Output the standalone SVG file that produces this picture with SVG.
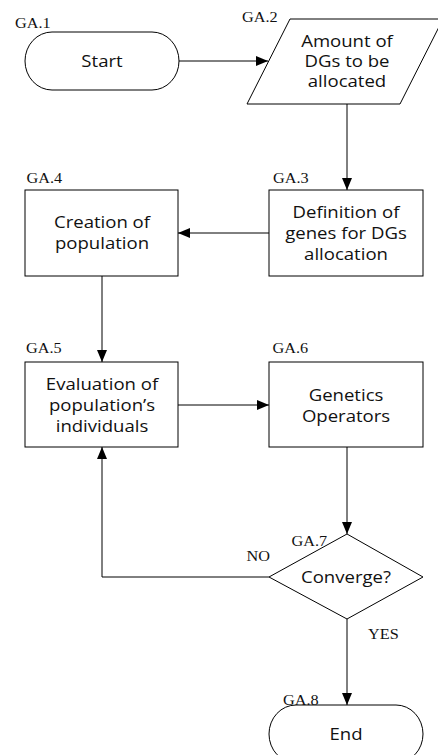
<svg xmlns="http://www.w3.org/2000/svg" width="438" height="755" viewBox="0 0 438 755">
<style>
.shape{fill:#fff;stroke:#000;stroke-width:1}
.conn{fill:none;stroke:#000;stroke-width:1}
.t{font-family:"Open Sans","Noto Sans",sans-serif;font-size:16px;fill:#111;text-anchor:middle}
.lab{font-family:"Liberation Serif","Times New Roman",serif;font-size:14px;fill:#111}
</style>
<defs>
<marker id="ah" markerUnits="userSpaceOnUse" markerWidth="13" markerHeight="11" refX="12" refY="5" orient="auto">
<path d="M0,0 L12,5 L0,10 z" fill="#000"/>
</marker>
</defs>
<rect width="438" height="755" fill="#fff"/>
<g id="connectors">
<line class="conn" x1="179" y1="61" x2="268" y2="61" marker-end="url(#ah)"/>
<line class="conn" x1="347" y1="104" x2="347" y2="190" marker-end="url(#ah)"/>
<line class="conn" x1="269" y1="233" x2="178" y2="233" marker-end="url(#ah)"/>
<line class="conn" x1="102" y1="276" x2="102" y2="362" marker-end="url(#ah)"/>
<line class="conn" x1="178" y1="405" x2="269" y2="405" marker-end="url(#ah)"/>
<line class="conn" x1="347" y1="447" x2="347" y2="534" marker-end="url(#ah)"/>
<polyline class="conn" points="269,577 102,577 102,447" marker-end="url(#ah)"/>
<line class="conn" x1="347" y1="619" x2="347" y2="705" marker-end="url(#ah)"/>
<text class="lab" transform="translate(246.5,0) scale(1.16,1)" y="561.5">NO</text>
<text class="lab" transform="translate(368,0) scale(1.16,1)" y="639">YES</text>
</g>
<g id="GA1">
<rect class="shape" x="25" y="32" width="154" height="58" rx="27" ry="29"/>
<text class="t" transform="translate(102,0) scale(1.16,1)" y="67.5">Start</text>
<text class="lab" transform="translate(15,0) scale(1.16,1)" y="28">GA.1</text>
</g>
<g id="GA2">
<polygon class="shape" points="290,19 443,19 400,104 247,104"/>
<text class="t" transform="translate(347,0) scale(1.16,1)"><tspan x="0" y="46.7">Amount of</tspan><tspan x="0" y="66.7">DGs to be</tspan><tspan x="0" y="87.3">allocated</tspan></text>
<text class="lab" transform="translate(242,0) scale(1.16,1)" y="21.7">GA.2</text>
</g>
<g id="GA3">
<rect class="shape" x="269" y="190" width="154" height="86"/>
<text class="t" transform="translate(346,0) scale(1.16,1)"><tspan x="0" y="218">Definition of</tspan><tspan x="0" y="239">genes for DGs</tspan><tspan x="0" y="260">allocation</tspan></text>
<text class="lab" transform="translate(273,0) scale(1.16,1)" y="183">GA.3</text>
</g>
<g id="GA4">
<rect class="shape" x="25" y="190" width="153" height="86"/>
<text class="t" transform="translate(102,0) scale(1.16,1)"><tspan x="0" y="228">Creation of</tspan><tspan x="0" y="249">population</tspan></text>
<text class="lab" transform="translate(26.5,0) scale(1.16,1)" y="183">GA.4</text>
</g>
<g id="GA5">
<rect class="shape" x="25" y="362" width="153" height="85"/>
<text class="t" transform="translate(102,0) scale(1.16,1)"><tspan x="0" y="390">Evaluation of</tspan><tspan x="0" y="411">population’s</tspan><tspan x="0" y="432">individuals</tspan></text>
<text class="lab" transform="translate(26,0) scale(1.16,1)" y="353">GA.5</text>
</g>
<g id="GA6">
<rect class="shape" x="269" y="362" width="154" height="85"/>
<text class="t" transform="translate(346,0) scale(1.16,1)"><tspan x="0" y="400.7">Genetics</tspan><tspan x="0" y="421.7">Operators</tspan></text>
<text class="lab" transform="translate(272.5,0) scale(1.16,1)" y="353">GA.6</text>
</g>
<g id="GA7">
<polygon class="shape" points="347,534 423,577 347,619 269,577"/>
<text class="t" transform="translate(346,0) scale(1.16,1)" y="583.3">Converge?</text>
<text class="lab" transform="translate(291.5,0) scale(1.16,1)" y="545.7">GA.7</text>
</g>
<g id="GA8">
<rect class="shape" x="269" y="705" width="154" height="58" rx="27" ry="29"/>
<text class="t" transform="translate(346,0) scale(1.16,1)" y="740">End</text>
<text class="lab" transform="translate(283,0) scale(1.16,1)" y="705">GA.8</text>
</g>
</svg>
